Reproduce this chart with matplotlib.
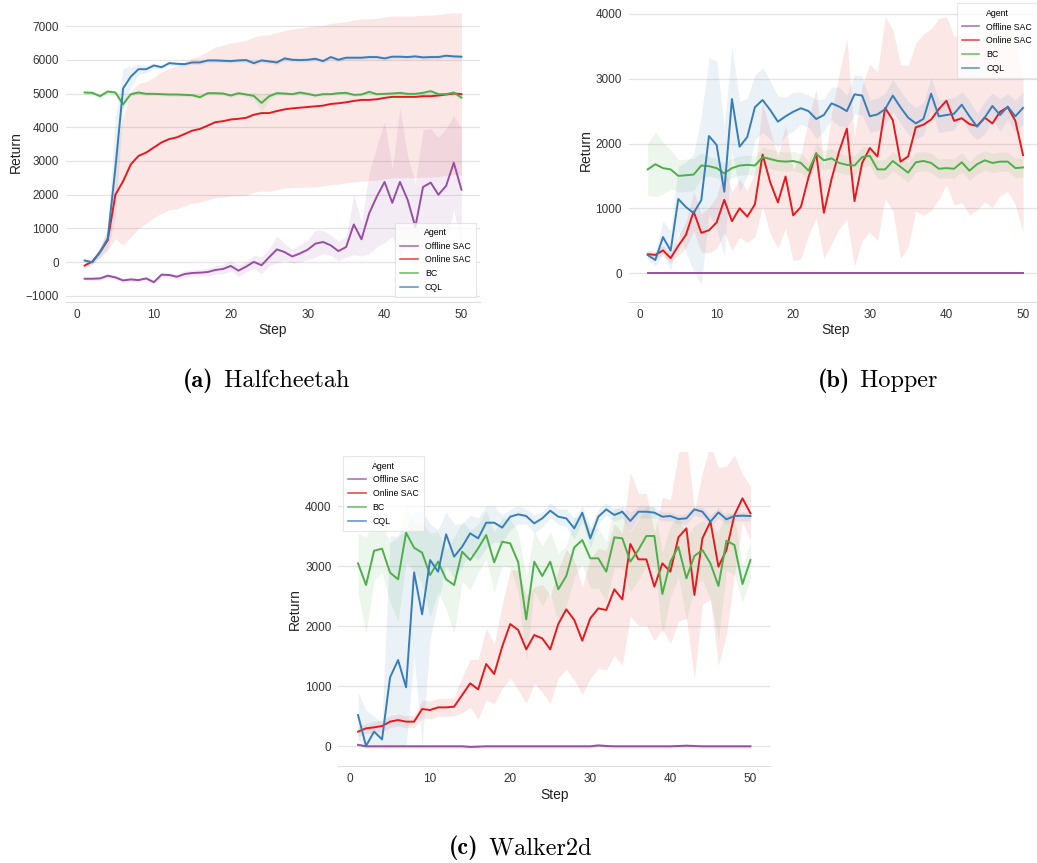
import numpy as np
import matplotlib
matplotlib.use("Agg")
import matplotlib.pyplot as plt

# ---------- data ----------
steps = np.arange(1, 51)
agents = ["Offline SAC", "Online SAC", "BC", "CQL"]
colors = {"Offline SAC": "#984ea3", "Online SAC": "#e41a1c", "BC": "#4daf4a", "CQL": "#377eb8"}

# (a) Halfcheetah
hc_offline = [-490, -490, -480, -400, -450, -540, -510, -530, -480, -590, -370, -380, -430, -350, -320, -310, -290, -230, -200, -110,
              -250, -130, 10, -90, 150, 380, 300, 170, 260, 370, 550, 600, 500, 330, 450, 1120, 680, 1450, 1950, 2380,
              1760, 2380, 1850, 1050, 2230, 2360, 2000, 2260, 2950, 2150]
hc_offline_sd = [60, 60, 60, 60, 60, 60, 60, 60, 60, 60, 80, 80, 80, 100, 100, 100, 120, 120, 150, 150,
                 180, 150, 200, 250, 250, 400, 250, 200, 250, 300, 400, 350, 300, 300, 300, 900, 500, 1200, 1500, 1800,
                 1000, 2200, 1300, 1300, 1700, 1600, 1700, 1700, 1400, 1800]
hc_online = [-100, 20, 300, 650, 2000, 2400, 2900, 3150, 3250, 3400, 3550, 3650, 3700, 3800, 3900, 3950, 4050, 4150, 4180, 4230,
             4250, 4280, 4370, 4420, 4420, 4480, 4530, 4560, 4580, 4600, 4620, 4640, 4690, 4710, 4740, 4780, 4810, 4810, 4830, 4870,
             4900, 4900, 4900, 4900, 4920, 4920, 4940, 4970, 5000, 4980]
hc_online_sd = [50, 80, 150, 300, 1300, 1900, 2150, 2150, 2100, 2080, 2100, 2100, 2120, 2130, 2150, 2170, 2200, 2230, 2250, 2270,
                2280, 2300, 2300, 2310, 2320, 2330, 2340, 2350, 2360, 2370, 2380, 2380, 2390, 2390, 2390, 2400, 2400, 2400, 2400, 2400,
                2400, 2400, 2400, 2400, 2400, 2400, 2400, 2400, 2400, 2400]
hc_bc = [5030, 5020, 4920, 5060, 5030, 4680, 4980, 5030, 4990, 4990, 4980, 4970, 4970, 4960, 4950, 4890, 5010, 5010, 5000, 4940,
         5010, 4970, 4930, 4720, 4920, 5010, 5000, 4980, 5030, 4990, 4940, 4980, 4980, 5010, 5020, 4960, 4970, 5050, 4980, 4990,
         5000, 5020, 4990, 4990, 5020, 5070, 4980, 4980, 5030, 4880]
hc_bc_sd = [60, 60, 60, 60, 60, 150, 60, 50, 50, 50, 50, 50, 50, 50, 50, 60, 50, 50, 50, 60,
            50, 60, 100, 250, 100, 50, 50, 50, 50, 50, 50, 50, 50, 50, 50, 50, 50, 50, 50, 50,
            50, 50, 50, 50, 50, 60, 50, 50, 60, 80]
hc_cql = [50, 0, 300, 700, 2800, 5150, 5500, 5720, 5720, 5830, 5780, 5900, 5880, 5870, 5920, 5920, 5980, 5980, 5970, 5960,
          5980, 5990, 5900, 5980, 5950, 5920, 6040, 6000, 5990, 6000, 6030, 5960, 6080, 6000, 6060, 6060, 6060, 6080, 6080, 6040,
          6090, 6090, 6080, 6100, 6070, 6080, 6080, 6120, 6100, 6090]
hc_cql_sd = [100, 60, 150, 300, 1500, 600, 300, 150, 100, 80, 60, 60, 60, 60, 60, 60, 60, 60, 60, 60,
             60, 60, 60, 60, 60, 60, 60, 60, 60, 60, 60, 60, 60, 60, 60, 60, 60, 60, 60, 60,
             60, 60, 60, 60, 60, 60, 60, 60, 60, 60]

# (b) Hopper
hp_offline = [0] * 50
hp_offline_sd = [0] * 50
hp_online = [290, 280, 350, 230, 420, 590, 950, 620, 660, 780, 1130, 800, 1000, 870, 1060, 1830, 1400, 1090, 1490, 890,
             1020, 1480, 1850, 930, 1450, 1880, 2230, 1110, 1700, 1930, 1800, 2550, 2360, 1720, 1800, 2250, 2290, 2370, 2530, 2660,
             2350, 2390, 2300, 2270, 2400, 2310, 2490, 2560, 2350, 1820]
hp_online_sd = [60, 50, 80, 80, 150, 200, 300, 300, 350, 400, 500, 450, 450, 400, 500, 800, 800, 700, 800, 700,
                800, 900, 1000, 700, 1000, 1200, 1400, 1000, 1200, 1300, 1300, 1400, 1400, 1500, 1400, 1300, 1400, 1400, 1400, 1300,
                1300, 1300, 1400, 1300, 1300, 1300, 1300, 1300, 1300, 1200]
hp_bc = [1600, 1680, 1620, 1600, 1500, 1510, 1520, 1660, 1650, 1620, 1540, 1620, 1660, 1670, 1660, 1790, 1760, 1730, 1720, 1730,
         1700, 1580, 1840, 1740, 1770, 1700, 1670, 1660, 1790, 1810, 1600, 1600, 1730, 1640, 1550, 1710, 1730, 1700, 1610, 1620,
         1610, 1710, 1580, 1680, 1740, 1700, 1720, 1720, 1620, 1630]
hp_bc_sd = [400, 500, 400, 300, 250, 250, 250, 200, 150, 150, 150, 150, 150, 150, 150, 150, 150, 150, 150, 150,
            150, 150, 150, 150, 150, 150, 150, 150, 150, 150, 150, 150, 150, 150, 150, 150, 150, 150, 150, 150,
            150, 150, 150, 150, 150, 150, 150, 150, 150, 150]
hp_cql = [278, 200, 555, 345, 1143, 1018, 925, 1127, 2116, 1977, 1256, 2687, 1951, 2100, 2560, 2672, 2517, 2337, 2420, 2490,
          2545, 2500, 2378, 2440, 2620, 2570, 2500, 2760, 2740, 2420, 2450, 2530, 2740, 2560, 2400, 2310, 2380, 2770, 2420, 2440,
          2460, 2600, 2420, 2260, 2400, 2580, 2440, 2570, 2420, 2550]
hp_cql_sd = [60, 100, 250, 300, 500, 700, 900, 1300, 1200, 1300, 1000, 800, 700, 600, 500, 500, 450, 400, 300, 300,
             250, 250, 300, 250, 250, 300, 250, 300, 300, 250, 250, 250, 250, 250, 250, 250, 250, 250, 250, 250,
             250, 200, 250, 200, 250, 200, 250, 200, 250, 250]

# (c) Walker2d
wk_offline = [20, -5, -5, -5, -5, -5, -5, -5, -5, -5, -5, -5, -5, -5, -15, -10, -5, -5, -5, -5,
              -5, -5, -5, -5, -5, -5, -5, -5, -5, -5, 10, 0, -5, -5, -5, -5, -5, -5, -5, -5,
              0, 5, 0, -5, -5, -5, -5, -5, -5, -5]
wk_offline_sd = [30] * 50
wk_online = [239, 294, 311, 333, 406, 433, 406, 406, 617, 600, 644, 644, 656, 850, 1044, 944, 1367, 1200, 1656, 2033,
             1933, 1611, 1850, 1794, 1611, 2033, 2278, 2100, 1756, 2128, 2294, 2267, 2611, 2444, 3367, 3111, 3111, 2656, 3044, 2906,
             3478, 3628, 2517, 3461, 3739, 2989, 3267, 3850, 4128, 3878]
wk_online_sd = [80, 80, 100, 100, 100, 100, 100, 100, 150, 150, 150, 150, 150, 300, 400, 500, 600, 500, 700, 900,
                1000, 900, 800, 900, 900, 900, 1000, 1000, 900, 1000, 1000, 1000, 1100, 1100, 1200, 1100, 1100, 900, 1100, 1200,
                1400, 1500, 1400, 1100, 1300, 1650, 1400, 1000, 400, 450]
wk_bc = [3044, 2683, 3255, 3289, 2889, 2778, 3555, 3305, 3222, 2850, 3072, 2778, 2683, 3239, 3100, 3294, 3517, 3061, 3405, 3378,
         3061, 2111, 3072, 2833, 3072, 2611, 2833, 3311, 3433, 3128, 3128, 2906, 3478, 3461, 3072, 3267, 3500, 3500, 2533, 3072,
         3322, 2794, 3167, 3267, 3044, 2667, 3422, 3350, 2700, 3100]
wk_bc_sd = [500, 800, 500, 400, 500, 700, 500, 400, 500, 700, 500, 500, 800, 500, 500, 400, 400, 500, 400, 400,
            500, 700, 500, 500, 500, 600, 500, 500, 400, 500, 500, 500, 500, 500, 500, 500, 500, 500, 700, 600,
            500, 700, 500, 500, 600, 900, 500, 500, 300, 300]
wk_cql = [517, 0, 240, 110, 1144, 1433, 978, 2894, 2194, 3100, 2905, 3528, 3156, 3322, 3544, 3461, 3722, 3722, 3640, 3822,
          3861, 3833, 3711, 3794, 3922, 3822, 3794, 3628, 3889, 3461, 3822, 3944, 3850, 3905, 3750, 3905, 3905, 3889, 3822, 3833,
          3783, 3794, 3944, 3905, 3739, 3894, 3778, 3833, 3839, 3833]
wk_cql_lo = [100, 0, 0, 0, 0, 0, 0, 1500, 0, 1800, 2400, 3000, 2800, 3000, 3200, 3100, 3300, 3400, 3400, 3600,
             3700, 3700, 3550, 3650, 3800, 3700, 3650, 3450, 3750, 3300, 3700, 3850, 3750, 3800, 3600, 3800, 3800, 3800, 3750, 3750,
             3700, 3700, 3850, 3800, 3650, 3800, 3700, 3750, 3750, 3750]
wk_cql_hi = [900, 600, 500, 400, 3500, 3500, 3600, 3900, 3900, 3700, 3600, 3900, 3700, 3700, 3850, 3800, 4000, 4000, 3850, 3950,
             4000, 3950, 3850, 3900, 4050, 3950, 3950, 3800, 4000, 3650, 3950, 4050, 3950, 4000, 3900, 4000, 4000, 3980, 3900, 3900,
             3850, 3880, 4000, 3980, 3850, 3980, 3850, 3900, 3900, 3900]

# ---------- figure ----------
W, H = 1037, 863
fig = plt.figure(figsize=(W / 100, H / 100), dpi=100)
plt.rcParams['font.family'] = ['Liberation Sans', 'DejaVu Sans']


def px_axes(left, right, top, bottom):
    return fig.add_axes([left / W, 1 - bottom / H, (right - left) / W, (bottom - top) / H])


def style(ax, ylim, yticks):
    ax.set_xlim(-1.45, 52.45)
    ax.set_ylim(*ylim)
    ax.set_yticks(yticks)
    ax.set_xticks([0, 10, 20, 30, 40, 50])
    ax.grid(axis='y', color='#e3e3e3', lw=0.9)
    ax.set_axisbelow(True)
    for s in ['left', 'right', 'top']:
        ax.spines[s].set_visible(False)
    ax.spines['bottom'].set_color('#dcdcdc')
    ax.tick_params(length=0, labelsize=8.5, colors='#333333', pad=5)
    ax.set_xlabel('Step', fontsize=10, color='#222222', labelpad=2)
    ax.set_ylabel('Return', fontsize=10, color='#222222', labelpad=2)


def draw(ax, series):
    for name, mean, lo, hi in series:
        c = colors[name]
        ax.fill_between(steps, lo, hi, color=c, alpha=0.1, lw=0)
        ax.plot(steps, mean, color=c, lw=1.4, label=name)


def band(mean, sd):
    return np.array(mean) - np.array(sd), np.array(mean) + np.array(sd)


def legend(ax, loc):
    lg = ax.legend(title='Agent', loc=loc, fontsize=6.3, title_fontsize=6.3, frameon=True,
                   edgecolor='#e0e0e0', fancybox=False, borderpad=0.6, labelspacing=0.55)
    lg.get_frame().set_linewidth(0.8)
    for ln in lg.get_lines():
        ln.set_linewidth(1.1)
        ln.set_alpha(0.85)


# (a)
ax_a = px_axes(65.8, 480.3, 2.4, 301.7)
draw(ax_a, [(n, m, *band(m, s)) for n, m, s in [
    ("Offline SAC", hc_offline, hc_offline_sd), ("Online SAC", hc_online, hc_online_sd),
    ("BC", hc_bc, hc_bc_sd), ("CQL", hc_cql, hc_cql_sd)]])
style(ax_a, (-1170, 7700), range(-1000, 7001, 1000))
legend(ax_a, 'lower right')

# (b)
ax_b = px_axes(628.9, 1041.8, -0.9, 301.7)
draw(ax_b, [(n, m, *band(m, s)) for n, m, s in [
    ("Offline SAC", hp_offline, hp_offline_sd), ("Online SAC", hp_online, hp_online_sd),
    ("BC", hp_bc, hp_bc_sd), ("CQL", hp_cql, hp_cql_sd)]])
style(ax_b, (-443, 4230), range(0, 4001, 1000))
legend(ax_b, 'upper right')

# (c)
ax_c = px_axes(338.4, 770.1, 452, 766)
draw(ax_c, [("Offline SAC", wk_offline, *band(wk_offline, wk_offline_sd)),
            ("Online SAC", wk_online, *band(wk_online, wk_online_sd)),
            ("BC", wk_bc, *band(wk_bc, wk_bc_sd)),
            ("CQL", wk_cql, wk_cql_lo, wk_cql_hi)])
style(ax_c, (-333, 4900), range(0, 4001, 1000))
legend(ax_c, 'upper left')

# captions
renderer = fig.canvas.get_renderer()


def caption(cx, cy, tag, name):
    t1 = fig.text(0, 1 - cy / H, tag, fontsize=17.5, family='cmb10', va='center', ha='left')
    t2 = fig.text(0, 1 - cy / H, ' ' + name, fontsize=17.5, family='cmr10', va='center', ha='left')
    w1 = t1.get_window_extent(renderer).width
    w2 = t2.get_window_extent(renderer).width
    x0 = cx - (w1 + w2) / 2
    t1.set_x(x0 / W)
    t2.set_x((x0 + w1 + 2) / W)


caption(265, 381, '(a)', 'Halfcheetah')
caption(877, 381, '(b)', 'Hopper')
caption(519, 848, '(c)', 'Walker2d')

fig.savefig('out.png', dpi=100)
